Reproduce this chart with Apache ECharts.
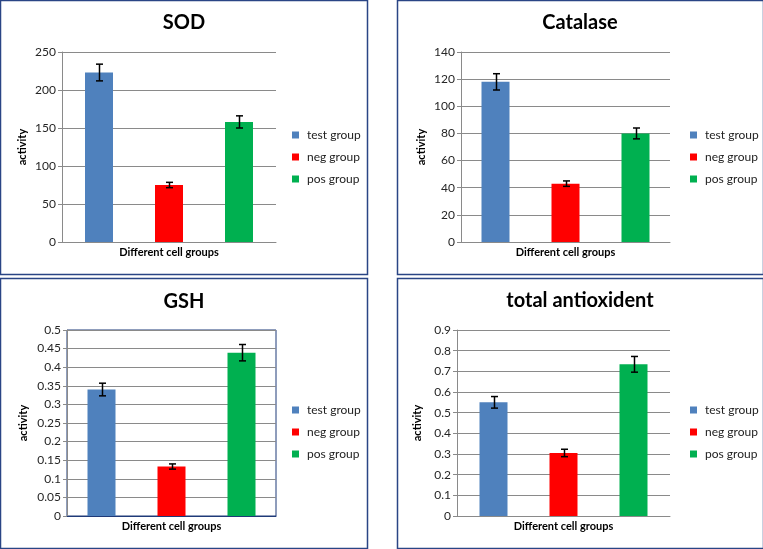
<!DOCTYPE html>
<html>
<head>
<meta charset="utf-8">
<script src="https://cdn.jsdelivr.net/npm/echarts@6/dist/echarts.min.js"></script>
<style>
html,body{margin:0;padding:0;background:#fff;}
#chart{width:763px;height:549px;}
</style>
</head>
<body>
<div id="chart"></div>
<script>
// ---- data ----
const groups = ['test group', 'neg group', 'pos group'];
const colors = ['#4f81bd', '#ff0000', '#00b050'];
const panelTitles = ['SOD', 'Catalase', 'GSH', 'total antioxident'];
const xAxisTitle = 'Different cell groups';
const yAxisTitle = 'activity';

const sodMean = [223, 75, 158];
const sodErr = [11, 3.5, 8];
const catMean = [118, 43, 80];
const catErr = [6, 2, 4];
const gshMean = [0.34, 0.133, 0.439];
const gshErr = [0.017, 0.007, 0.022];
const taMean = [0.55, 0.305, 0.734];
const taErr = [0.028, 0.018, 0.038];

const yMax = [250, 140, 0.5, 0.9];
const yStep = [50, 20, 0.05, 0.1];

const means = [sodMean, catMean, gshMean, taMean];
const errs = [sodErr, catErr, gshErr, taErr];

// ---- layout ----
const gridBoxes = [
  {left: 62, top: 52, width: 214, height: 190},
  {left: 461, top: 52, width: 209, height: 190},
  {left: 67, top: 330, width: 209, height: 186},
  {left: 457, top: 330, width: 213, height: 186}
];
const titlePos = [[184, 13], [580, 13], [184, 292], [580, 291]];
const legendPos = [[292, 128], [690, 128], [292, 403], [690, 403]];
const panelRects = [
  [0.5, 0.5, 367, 274], [397.5, 0.5, 366, 274],
  [0.5, 278.5, 367, 270], [397.5, 278.5, 366, 270]
];

const FONT = 'Lato';
const BAR_W = 28;
const BAR_GAP = 1.5;
const gridColor = '#8a8a8a';

const grids = [], xAxes = [], yAxes = [], titles = [], legends = [], series = [];

for (let p = 0; p < 4; p++) {
  grids.push(Object.assign({
    show: p === 2,
    borderColor: '#1f3a78',
    borderWidth: 1,
    containLabel: false
  }, gridBoxes[p]));
  xAxes.push({
    type: 'category',
    gridIndex: p,
    data: [xAxisTitle],
    axisLine: {lineStyle: {color: p === 2 ? '#1f3a78' : gridColor, width: 1}},
    axisTick: {show: false},
    axisLabel: {fontFamily: FONT, fontWeight: 'bold', fontSize: 11, color: '#000', margin: 5}
  });
  yAxes.push({
    type: 'value',
    gridIndex: p,
    min: 0,
    max: yMax[p],
    interval: yStep[p],
    name: yAxisTitle,
    nameLocation: 'middle',
    nameRotate: 90,
    nameGap: p === 2 ? 38 : 34,
    nameTextStyle: {fontFamily: FONT, fontWeight: 'bold', fontSize: 11, color: '#000'},
    axisLine: {show: true, lineStyle: {color: gridColor, width: 1}},
    axisTick: {show: true, length: 4, inside: false, lineStyle: {color: gridColor}},
    axisLabel: {fontFamily: FONT, fontSize: 12, color: '#262626', margin: 6},
    splitLine: {show: true, lineStyle: {color: gridColor, width: 1}}
  });
  titles.push({
    text: panelTitles[p],
    left: titlePos[p][0],
    top: titlePos[p][1],
    textAlign: 'center',
    padding: 0,
    textStyle: {fontFamily: FONT, fontWeight: 'bold', fontSize: 20, color: '#000'}
  });
  legends.push({
    orient: 'vertical',
    left: legendPos[p][0],
    top: legendPos[p][1],
    padding: 0,
    itemGap: 8,
    itemWidth: 7,
    itemHeight: 7,
    icon: 'rect',
    data: groups,
    selectedMode: false,
    textStyle: {fontFamily: FONT, fontSize: 12, color: '#222', lineHeight: 14, padding: [0, 0, 0, 3]}
  });
  for (let g = 0; g < 3; g++) {
    series.push({
      type: 'bar',
      name: groups[g],
      xAxisIndex: p,
      yAxisIndex: p,
      barWidth: BAR_W,
      barGap: (BAR_GAP * 100) + '%',
      itemStyle: {color: colors[g]},
      data: [means[p][g]],
      silent: true
    });
  }
  const errData = groups.map((name, i) => [0, means[p][i], errs[p][i], i]);
  series.push({
    type: 'custom',
    xAxisIndex: p,
    yAxisIndex: p,
    silent: true,
    z: 10,
    encode: {x: 0, y: 1},
    data: errData,
    renderItem: function (params, api) {
      const v = api.value(1), e = api.value(2), idx = api.value(3);
      const hi = api.coord([0, v + e]);
      const lo = api.coord([0, v - e]);
      const off = (idx - 1) * BAR_W * (1 + BAR_GAP);
      const x = Math.round(hi[0] + off) + 0.5;
      const cap = 3.5;
      const st = {stroke: '#000', lineWidth: 1.5};
      return {
        type: 'group',
        children: [
          {type: 'line', shape: {x1: x, y1: hi[1], x2: x, y2: lo[1]}, style: st},
          {type: 'line', shape: {x1: x - cap, y1: hi[1], x2: x + cap, y2: hi[1]}, style: st},
          {type: 'line', shape: {x1: x - cap, y1: lo[1], x2: x + cap, y2: lo[1]}, style: st}
        ]
      };
    }
  });
}

const graphics = panelRects.map(r => ({
  type: 'rect',
  silent: true,
  z: -10,
  shape: {x: r[0], y: r[1], width: r[2], height: r[3]},
  style: {fill: '#fff', stroke: '#2a4585', lineWidth: 1.5}
}));

const chart = echarts.init(document.getElementById('chart'), null, {renderer: 'canvas'});
chart.setOption({
  animation: false,
  backgroundColor: '#fff',
  graphic: graphics,
  title: titles,
  legend: legends,
  grid: grids,
  xAxis: xAxes,
  yAxis: yAxes,
  series: series
});
</script>
</body>
</html>
